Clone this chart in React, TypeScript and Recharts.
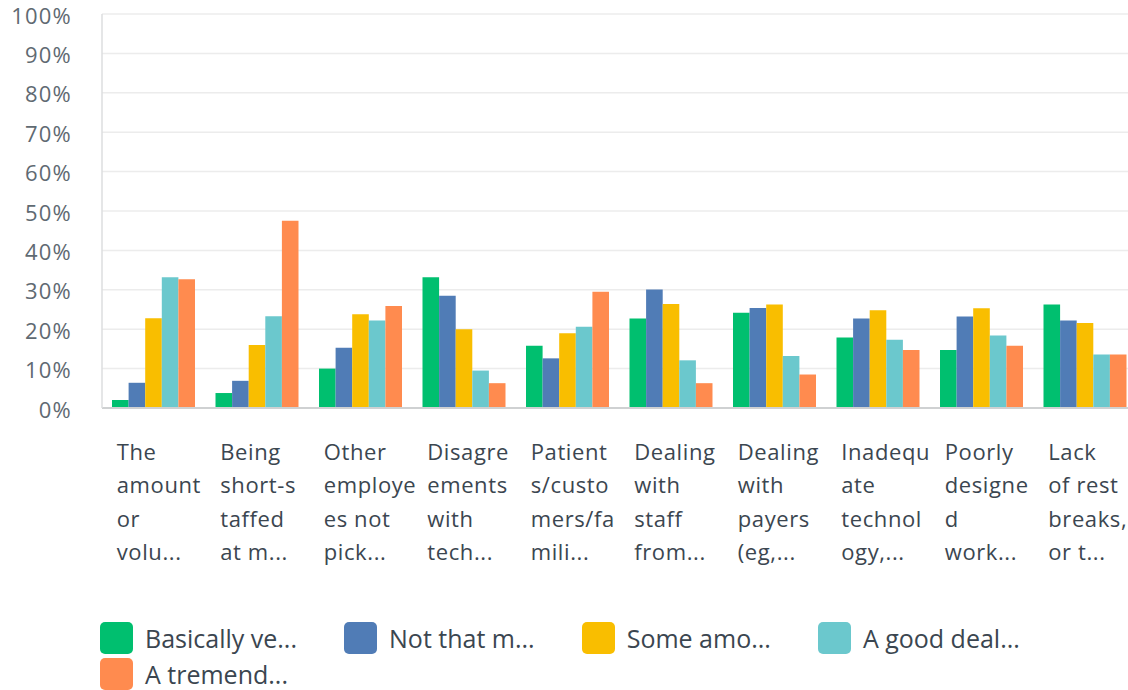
import React from 'react';
import { BarChart, Bar, XAxis, YAxis, CartesianGrid } from 'recharts';

const categories = [
  'The amount or volu...',
  'Being short-staffed at m...',
  'Other employees not pick...',
  'Disagreements with tech...',
  'Patients/customers/famili...',
  'Dealing with staff from...',
  'Dealing with payers (eg,...',
  'Inadequate technology,...',
  'Poorly designed work...',
  'Lack of rest breaks, or t...',
];

// wrapped lines as drawn under each group
const categoryLines = [
  ['The', 'amount', 'or', 'volu...'],
  ['Being', 'short-s', 'taffed', 'at m...'],
  ['Other', 'employe', 'es not', 'pick...'],
  ['Disagre', 'ements', 'with', 'tech...'],
  ['Patient', 's/custo', 'mers/fa', 'mili...'],
  ['Dealing', 'with', 'staff', 'from...'],
  ['Dealing', 'with', 'payers', '(eg,...'],
  ['Inadequ', 'ate', 'technol', 'ogy,...'],
  ['Poorly', 'designe', 'd', 'work...'],
  ['Lack', 'of rest', 'breaks,', 'or t...'],
];

const basically = [2.0, 3.8, 10.0, 33.2, 15.8, 22.7, 24.2, 17.9, 14.7, 26.3];
const notThat = [6.4, 6.9, 15.3, 28.5, 12.6, 30.1, 25.4, 22.7, 23.2, 22.2];
const someAmount = [22.8, 16.0, 23.8, 20.0, 19.0, 26.4, 26.3, 24.8, 25.3, 21.6];
const goodDeal = [33.2, 23.3, 22.2, 9.5, 20.6, 12.1, 13.2, 17.3, 18.4, 13.6];
const tremendous = [32.7, 47.5, 25.9, 6.3, 29.5, 6.3, 8.5, 14.7, 15.8, 13.6];

const yTicks = [0, 10, 20, 30, 40, 50, 60, 70, 80, 90, 100];

const series = [
  { key: 'basically', name: 'Basically ve...', color: '#00BF6F', values: basically },
  { key: 'notThat', name: 'Not that m...', color: '#507CB6', values: notThat },
  { key: 'someAmount', name: 'Some amo...', color: '#F9BE00', values: someAmount },
  { key: 'goodDeal', name: 'A good deal...', color: '#6BC8CD', values: goodDeal },
  { key: 'tremendous', name: 'A tremend...', color: '#FF8B4F', values: tremendous },
];

const data = categories.map((c, i) => {
  const row: any = { name: c };
  series.forEach(s => { row[s.key] = s.values[i]; });
  return row;
});

const CategoryTick = ({ x, y, payload }: any) => {
  const lines = categoryLines[payload.index] || [];
  return (
    <text x={x - 37} y={y + 44} fill="#3b4650" fontSize={22} fontFamily="'Open Sans', sans-serif" letterSpacing={0.6}>
      {lines.map((l, i) => (
        <tspan key={i} x={x - 37} dy={i === 0 ? 0 : 33.3}>{l}</tspan>
      ))}
    </text>
  );
};

const PercentTick = ({ y, payload }: any) => (
  <text x={72} y={y} dy={9.5} textAnchor="end" fill="#5f6a72" style={{ fontSize: 22, fontFamily: "'Open Sans', sans-serif", letterSpacing: 1.2 }}>
    {`${payload.value}%`}
  </text>
);

export default function App() {
  return (
    <div style={{ position: 'absolute', left: 0, top: 0, width: 1128, height: 690, overflow: 'hidden', background: '#fff' }}>
      <BarChart width={1137} height={600} data={data} margin={{ top: 14, right: 0, left: 0, bottom: 0 }} barGap={0} barSize={16.6}>
        <CartesianGrid vertical={false} stroke="#ececec" strokeWidth={1.5} />
        <XAxis
          dataKey="name"
          height={192}
          interval={0}
          tickLine={false}
          axisLine={{ stroke: '#cfd1d2', strokeWidth: 2 }}
          tick={<CategoryTick />}
        />
        <YAxis
          width={102}
          domain={[0, 100]}
          ticks={yTicks}
          interval={0}
          tickLine={false}
          axisLine={{ stroke: '#dcdedf', strokeWidth: 1.5 }}
          tick={<PercentTick />}
        />
        {series.map(s => (
          <Bar key={s.key} dataKey={s.key} name={s.name} fill={s.color} isAnimationActive={false} />
        ))}
      </BarChart>
      <div style={{ position: 'absolute', left: 100, top: 622, width: 1000, display: 'flex', flexWrap: 'wrap', columnGap: 47, rowGap: 4 }}>
        {series.map(s => (
          <div key={s.key} style={{ display: 'flex', alignItems: 'center', height: 32 }}>
            <div style={{ width: 33, height: 32, borderRadius: 5, background: s.color }} />
            <span style={{ marginLeft: 12, fontSize: 25, color: '#3b4650', fontFamily: "'Open Sans', sans-serif" }}>{s.name}</span>
          </div>
        ))}
      </div>
    </div>
  );
}
